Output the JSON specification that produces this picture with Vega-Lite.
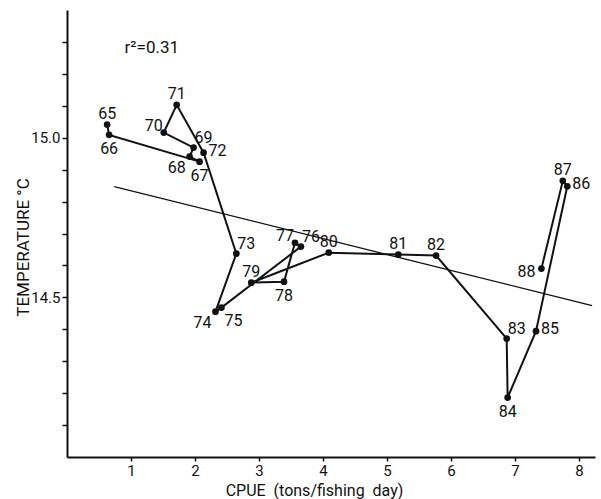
{
  "$schema": "https://vega.github.io/schema/vega-lite/v6.json",
  "autosize": "none",
  "width": 528,
  "height": 447,
  "padding": {"left": 67, "top": 10, "right": 6, "bottom": 42},
  "background": "white",
  "config": {
    "view": {"stroke": null},
    "font": "Roboto",
    "axis": {"grid": false, "domainColor": "#111", "tickColor": "#111", "labelColor": "#111", "titleColor": "#111", "labelFont": "Roboto", "titleFont": "Roboto", "titleFontWeight": "normal", "domainWidth": 2, "tickWidth": 1.5}
  },
  "datasets": {
    "obs": [
      {"year": 65, "cpue": 0.627, "temp": 15.041},
      {"year": 66, "cpue": 0.658, "temp": 15.009},
      {"year": 67, "cpue": 2.071, "temp": 14.925},
      {"year": 68, "cpue": 1.916, "temp": 14.941},
      {"year": 69, "cpue": 1.978, "temp": 14.969},
      {"year": 70, "cpue": 1.512, "temp": 15.016},
      {"year": 71, "cpue": 1.714, "temp": 15.103},
      {"year": 72, "cpue": 2.134, "temp": 14.953},
      {"year": 73, "cpue": 2.646, "temp": 14.637},
      {"year": 74, "cpue": 2.32, "temp": 14.455},
      {"year": 75, "cpue": 2.413, "temp": 14.468},
      {"year": 76, "cpue": 3.655, "temp": 14.659},
      {"year": 77, "cpue": 3.562, "temp": 14.671},
      {"year": 78, "cpue": 3.391, "temp": 14.549},
      {"year": 79, "cpue": 2.879, "temp": 14.546},
      {"year": 80, "cpue": 4.09, "temp": 14.64},
      {"year": 81, "cpue": 5.177, "temp": 14.634},
      {"year": 82, "cpue": 5.767, "temp": 14.631},
      {"year": 83, "cpue": 6.87, "temp": 14.371},
      {"year": 84, "cpue": 6.885, "temp": 14.186},
      {"year": 85, "cpue": 7.328, "temp": 14.394},
      {"year": 86, "cpue": 7.817, "temp": 14.848},
      {"year": 87, "cpue": 7.747, "temp": 14.865},
      {"year": 88, "cpue": 7.413, "temp": 14.59}
    ],
    "fit": [
      {"cpue": 0.738, "temp": 14.847},
      {"cpue": 8.205, "temp": 14.474}
    ],
    "note": [
      {"cpue": 0.9, "temp": 15.282, "label": "r²=0.31"}
    ]
  },
  "encoding": {
    "x": {"field": "cpue", "type": "quantitative", "scale": {"domain": [0, 8.25], "nice": false, "zero": false},
      "axis": {"values": [1, 2, 3, 4, 5, 6, 7, 8], "tickSize": 4, "labelPadding": 2, "labelFontSize": 15, "title": "CPUE\u00a0\u00a0(tons/fishing\u00a0\u00a0day)", "titleFontSize": 16, "titleX": 247, "titleY": 25, "titleAlign": "center", "titleBaseline": "top"}},
    "y": {"field": "temp", "type": "quantitative", "scale": {"domain": [14.0, 15.4], "nice": false, "zero": false},
      "axis": {"values": [14.1, 14.2, 14.3, 14.4, 14.5, 14.6, 14.7, 14.8, 14.9, 15.0, 15.1, 15.2, 15.3], "labelExpr": "abs(datum.value-15)<0.01 || abs(datum.value-14.5)<0.01 ? format(datum.value, '.1f') : ''", "tickSize": 5, "labelPadding": 2, "labelFontSize": 15, "title": "TEMPERATURE °C", "titleFontSize": 17, "titleX": -44, "titleY": 237, "titleAngle": -90, "titleAlign": "center", "titleBaseline": "middle"}}
  },
  "layer": [
    {"data": {"name": "fit"}, "mark": {"type": "line", "color": "#111", "strokeWidth": 1.3}},
    {"data": {"name": "obs"}, "mark": {"type": "line", "color": "#111", "strokeWidth": 2}, "encoding": {"order": {"field": "year", "type": "quantitative"}}},
    {"data": {"name": "obs"}, "mark": {"type": "circle", "color": "#111", "opacity": 1, "size": 45}},
    {"data": {"name": "obs"}, "transform": [{"filter": {"field": "year", "oneOf": [65, 71, 79, 80, 81, 82, 87]}}],
      "mark": {"type": "text", "fontSize": 16, "dy": -11, "color": "#111"}, "encoding": {"text": {"field": "year", "type": "nominal"}}},
    {"data": {"name": "obs"}, "transform": [{"filter": {"field": "year", "oneOf": [66, 67, 78, 84]}}],
      "mark": {"type": "text", "fontSize": 16, "dy": 14, "color": "#111"}, "encoding": {"text": {"field": "year", "type": "nominal"}}},
    {"data": {"name": "obs"}, "transform": [{"filter": {"field": "year", "oneOf": [68, 74]}}],
      "mark": {"type": "text", "fontSize": 16, "dx": -13, "dy": 11, "color": "#111"}, "encoding": {"text": {"field": "year", "type": "nominal"}}},
    {"data": {"name": "obs"}, "transform": [{"filter": {"field": "year", "oneOf": [75]}}],
      "mark": {"type": "text", "fontSize": 16, "dx": 12, "dy": 13, "color": "#111"}, "encoding": {"text": {"field": "year", "type": "nominal"}}},
    {"data": {"name": "obs"}, "transform": [{"filter": {"field": "year", "oneOf": [69, 73, 76, 83]}}],
      "mark": {"type": "text", "fontSize": 16, "dx": 10, "dy": -10, "color": "#111"}, "encoding": {"text": {"field": "year", "type": "nominal"}}},
    {"data": {"name": "obs"}, "transform": [{"filter": {"field": "year", "oneOf": [70, 77]}}],
      "mark": {"type": "text", "fontSize": 16, "dx": -10, "dy": -7, "color": "#111"}, "encoding": {"text": {"field": "year", "type": "nominal"}}},
    {"data": {"name": "obs"}, "transform": [{"filter": {"field": "year", "oneOf": [72, 85, 86]}}],
      "mark": {"type": "text", "fontSize": 16, "dx": 14, "dy": -2, "color": "#111"}, "encoding": {"text": {"field": "year", "type": "nominal"}}},
    {"data": {"name": "obs"}, "transform": [{"filter": {"field": "year", "oneOf": [88]}}],
      "mark": {"type": "text", "fontSize": 16, "dx": -15, "dy": 3, "color": "#111"}, "encoding": {"text": {"field": "year", "type": "nominal"}}},
    {"data": {"name": "note"}, "mark": {"type": "text", "fontSize": 17, "align": "left", "color": "#111"}, "encoding": {"text": {"field": "label", "type": "nominal"}}}
  ]
}
